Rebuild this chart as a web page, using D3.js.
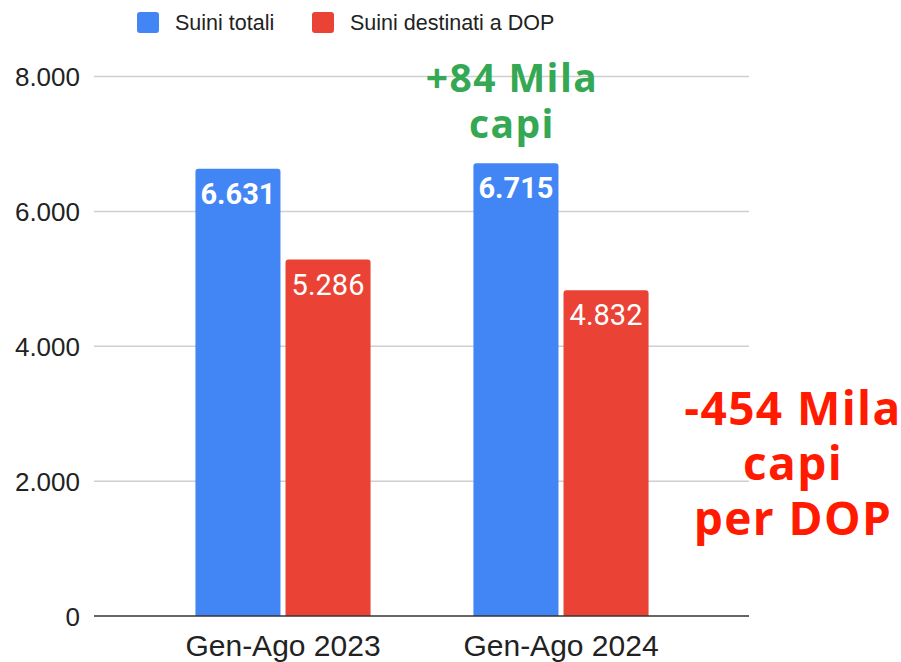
<!DOCTYPE html>
<head>
    <meta charset="utf-8">
    <script src="https://d3js.org/d3.v7.min.js"></script>
    <style>
        body {
            margin: 0;
            background: #fff;
        }
        svg text {
            font-family: "Liberation Sans", Arial, sans-serif;
        }
        .grid line {
            stroke: #cfcfcf;
            stroke-width: 1.5px;
        }
        .barlabel {
            font-family: Roboto, sans-serif !important;
        }
        .note {
            font-family: "Open Sans", "Noto Sans", sans-serif !important;
            font-weight: 700;
            letter-spacing: 1.4px;
        }
    </style>
</head>
<body>
    <svg id="chart" width="901" height="662"></svg>
    <script type="text/javascript">
        // data (thousands of pigs)
        var categories = ["Gen-Ago 2023", "Gen-Ago 2024"];
        var seriesNames = ["Suini totali", "Suini destinati a DOP"];
        var suiniTotali = [6631, 6715];
        var suiniDop = [5286, 4832];
        var yTicks = [0, 2000, 4000, 6000, 8000];
        var colors = ["#4285f4", "#ea4335"];
        var greenNote = ["+84 Mila", "capi"];
        var redNote = ["-454 Mila", "capi", "per DOP"];

        (function() {
            var svg = d3.select("#chart");
            var plotLeft = 94, plotRight = 749, plotTop = 76.5, plotBottom = 616;

            var y = d3.scaleLinear().domain([0, 8000]).range([plotBottom, plotTop]);
            var x0 = d3.scaleBand().domain(categories).range([144, 700])
                .paddingInner(0.37).paddingOuter(0.185);
            var x1 = d3.scaleBand().domain(seriesNames).range([0, x0.bandwidth()])
                .paddingInner(0.056);

            var fmt = d3.formatLocale({decimal: ",", thousands: ".", grouping: [3], currency: ["", ""]}).format(",d");

            // gridlines
            svg.append("g").attr("class", "grid")
                .selectAll("line").data(yTicks.filter(function(d) { return d > 0; }))
                .enter().append("line")
                .attr("x1", plotLeft).attr("x2", plotRight)
                .attr("y1", function(d) { return y(d); })
                .attr("y2", function(d) { return y(d); });

            // y axis labels
            var yAxis = d3.axisLeft(y).tickValues(yTicks).tickSize(0).tickPadding(14).tickFormat(fmt);
            var ya = svg.append("g").attr("transform", "translate(" + plotLeft + ",0)").call(yAxis);
            ya.select(".domain").remove();
            ya.selectAll("text").attr("font-size", 26).attr("fill", "#222")
                .attr("font-family", "'Liberation Sans', Arial, sans-serif").attr("dy", "0.36em");

            var data = categories.map(function(c, i) {
                return {cat: c, values: [
                    {name: seriesNames[0], v: suiniTotali[i], k: 0},
                    {name: seriesNames[1], v: suiniDop[i], k: 1}
                ]};
            });

            function topRounded(x, yTop, w, h, r) {
                return "M" + x + "," + (yTop + h) +
                    "V" + (yTop + r) + "Q" + x + "," + yTop + " " + (x + r) + "," + yTop +
                    "H" + (x + w - r) + "Q" + (x + w) + "," + yTop + " " + (x + w) + "," + (yTop + r) +
                    "V" + (yTop + h) + "Z";
            }

            var groups = svg.append("g").selectAll("g").data(data).enter().append("g")
                .attr("transform", function(d) { return "translate(" + x0(d.cat) + ",0)"; });

            groups.selectAll("path").data(function(d) { return d.values; }).enter().append("path")
                .attr("fill", function(d) { return colors[d.k]; })
                .attr("d", function(d) {
                    return topRounded(x1(d.name), y(d.v), x1.bandwidth(), plotBottom - y(d.v), 3);
                });

            groups.selectAll("text").data(function(d) { return d.values; }).enter().append("text")
                .attr("class", "barlabel")
                .attr("x", function(d) { return x1(d.name) + x1.bandwidth() / 2; })
                .attr("y", function(d) { return y(d.v) + 35; })
                .attr("text-anchor", "middle")
                .attr("fill", "#fff")
                .attr("font-size", 29)
                .attr("font-weight", function(d) { return d.k === 0 ? 700 : 400; })
                .text(function(d) { return fmt(d.v); });

            // baseline
            svg.append("line").attr("x1", plotLeft).attr("x2", plotRight)
                .attr("y1", plotBottom).attr("y2", plotBottom)
                .attr("stroke", "#333").attr("stroke-width", 1.5);

            // x axis labels
            svg.append("g").selectAll("text").data(categories).enter().append("text")
                .attr("x", function(d) { return x0(d) + x0.bandwidth() / 2; })
                .attr("y", 656)
                .attr("text-anchor", "middle")
                .attr("font-size", 30)
                .attr("fill", "#222")
                .text(function(d) { return d; });

            // legend
            var legendX = [137, 312];
            var lg = svg.append("g").selectAll("g").data(seriesNames).enter().append("g")
                .attr("transform", function(d, i) { return "translate(" + legendX[i] + ",12)"; });
            lg.append("rect").attr("width", 22).attr("height", 21).attr("rx", 3)
                .attr("fill", function(d, i) { return colors[i]; });
            lg.append("text").attr("x", 38).attr("y", 18).attr("font-size", 21.5)
                .attr("fill", "#222").text(function(d) { return d; });

            // annotations, one multi-line text each
            function note(lines, cx, y0, lineH, size, color) {
                var t = svg.append("text").attr("class", "note")
                    .attr("text-anchor", "middle").attr("font-size", size)
                    .attr("fill", color);
                t.selectAll("tspan").data(lines).enter().append("tspan")
                    .attr("x", cx)
                    .attr("y", function(d, i) { return y0 + i * lineH; })
                    .text(function(d) { return d; });
            }
            note(greenNote, 512, 92, 46, 39, "#34a853");
            note(redNote, 793, 425, 55, 46, "#ff1a00");
        })();
    </script>
</body>
